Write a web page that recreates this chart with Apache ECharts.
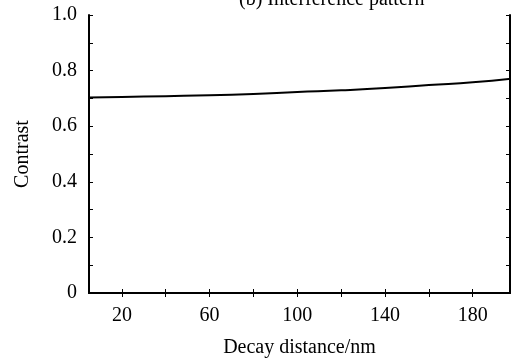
<!DOCTYPE html>
<html>
<head>
<meta charset="utf-8">
<script src="https://cdn.jsdelivr.net/npm/echarts@6/dist/echarts.min.js"></script>
<style>
html, body { margin: 0; padding: 0; background: #fff; }
#chart { width: 512px; height: 363px; }
</style>
</head>
<body>
<div id="chart"></div>
<script>
var decayDistance = [5, 20, 40, 60, 80, 100, 120, 140, 160, 180, 198];
var contrast = [0.703, 0.705, 0.708, 0.711, 0.716, 0.723, 0.729, 0.737, 0.748, 0.758, 0.771];
var xTicks = [20, 40, 60, 80, 100, 120, 140, 160, 180];
var xLabels = [20, 60, 100, 140, 180];
var yTicks = [0, 0.1, 0.2, 0.3, 0.4, 0.5, 0.6, 0.7, 0.8, 0.9, 1.0];
var yLabels = [0, 0.2, 0.4, 0.6, 0.8, 1.0];

var font = 'Liberation Serif';
var chart = echarts.init(document.getElementById('chart'));

var points = [];
for (var i = 0; i < decayDistance.length; i++) {
	points.push([decayDistance[i], contrast[i]]);
}

var axisLine = {show: true, lineStyle: {color: '#000', width: 2}};
var tick = {show: true, inside: true, length: 4, lineStyle: {color: '#000', width: 1}};

var option = {
	animation: false,
	title: {
		text: '(b) Interference pattern',
		left: 234,
		top: -15,
		textStyle: {fontFamily: font, fontSize: 20, fontWeight: 'normal', color: '#000'}
	},
	grid: {left: 89, right: 2, top: 15, bottom: 65},
	xAxis: [
		{
			type: 'value',
			min: 5,
			max: 197,
			name: 'Decay distance/nm',
			nameLocation: 'middle',
			nameGap: 45,
			nameTextStyle: {fontFamily: font, fontSize: 20, color: '#000'},
			axisLine: axisLine,
			axisTick: Object.assign({customValues: xTicks}, tick),
			axisLabel: {customValues: xLabels, margin: 13, fontFamily: font, fontSize: 20, color: '#000'},
			splitLine: {show: false}
		},
		{
			type: 'value',
			position: 'top',
			min: 5,
			max: 197,
			axisLine: axisLine,
			axisTick: Object.assign({customValues: xTicks}, tick),
			axisLabel: {show: false},
			splitLine: {show: false}
		}
	],
	yAxis: [
		{
			type: 'value',
			min: 0,
			max: 1,
			name: 'Contrast',
			nameLocation: 'middle',
			nameGap: 56,
			nameTextStyle: {fontFamily: font, fontSize: 20, color: '#000'},
			axisLine: axisLine,
			axisTick: Object.assign({customValues: yTicks}, tick),
			axisLabel: {
				customValues: yLabels,
				margin: 12,
				fontFamily: font,
				fontSize: 20,
				color: '#000',
				formatter: function (v) { return v === 0 ? '0' : v.toFixed(1); }
			},
			splitLine: {show: false}
		},
		{
			type: 'value',
			position: 'right',
			min: 0,
			max: 1,
			axisLine: axisLine,
			axisTick: Object.assign({customValues: yTicks}, tick),
			axisLabel: {show: false},
			splitLine: {show: false}
		}
	],
	series: [
		{
			type: 'line',
			data: points,
			smooth: true,
			showSymbol: false,
			lineStyle: {color: '#000', width: 2},
			clip: true
		}
	]
};

chart.setOption(option);
</script>
</body>
</html>
